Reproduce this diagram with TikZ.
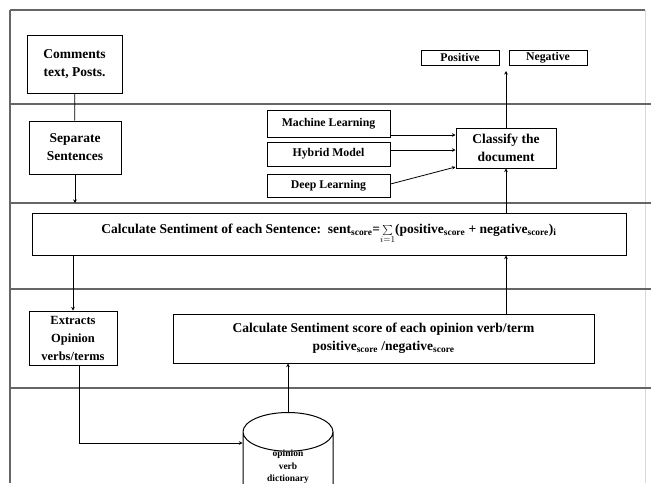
\documentclass[tikz,border=0pt]{standalone}
\usepackage{fontspec}
\setmainfont{Liberation Serif}
\usetikzlibrary{arrows.meta,shapes.geometric}

\begin{document}
\begin{tikzpicture}[x=1pt,y=-1pt]
		% Define the styles for the boxes, lanes and arrows
		\tikzstyle{box}=[draw, line width=1pt, inner sep=1pt, align=center,
		font=\fontsize{13.5}{18}\selectfont\bfseries]
		\tikzstyle{smallbox}=[box, font=\fontsize{11.8}{13}\selectfont\bfseries]
		\tikzstyle{lane}=[gray!80!black, line width=1.4pt]
		\tikzstyle{arr}=[-{Stealth[length=3.5pt,width=3.5pt]}, line width=0.8pt]
		
		\useasboundingbox (0,0) rectangle (651,483);
		
		% Draw the lanes
		\draw[lane] (10,10) -- (645,10); \draw[lane] (10,10) -- (10,483);
		\draw[gray!30, line width=0.8pt] (645,10) -- (645,483);
		\draw[lane] (10,104) -- (651,104); \draw[lane] (10,203) -- (651,203);
		\draw[lane] (10,289) -- (651,289); \draw[lane] (10,388) -- (651,388);
		
		% Nodes definition
		\node (com) at (74.5,64) [box, minimum width=95, minimum height=58]
		{Comments\\text, Posts.}; \node (sep) at (75,147.5) [box, minimum width=92,
		minimum height=53] {Separate\\Sentences};
		\node (ml) at (328.5,123.5) [smallbox, minimum width=123, minimum height=27]
		{Machine Learning}; \node (hyb) at (328.5,154) [smallbox, minimum width=123,
		minimum height=24] {Hybrid Model}; \node (deep) at (328.5,185.5) [smallbox,
		minimum width=123, minimum height=23] {Deep Learning};
		\node (cls) at (506,148) [box, minimum width=100, minimum height=40]
		{Classify the\\document};
		\node (pos) at (460,57.5) [smallbox, minimum width=78, minimum height=15]
		{Positive}; \node (neg) at (548,57.5) [smallbox, minimum width=78,
		minimum height=15] {Negative};
		\node (sent) at (329,234) [box, minimum width=594, minimum height=42]
		{Calculate Sentiment of each Sentence:\ \ sent\textsubscript{score}=$\sum\limits_{i=1}$(positive\textsubscript{score}
		+ negative\textsubscript{score})\textsubscript{i}};
		\node (ext) at (73,338) [box, minimum width=88, minimum height=54,
		font=\fontsize{12.5}{18}\selectfont\bfseries] {Extracts\\Opinion\\verbs/terms};
		\node (score) at (383.5,338.5) [box, minimum width=421, minimum height=49]
		{Calculate Sentiment score of each opinion verb/term\\positive\textsubscript{score}
		/negative\textsubscript{score}};
		% text kept at zero size so the cylinder keeps its own size
		\node (dict) at (288,412) [anchor=north, draw, line width=1pt, cylinder,
		shape border rotate=90, aspect=0.8, minimum width=90, minimum height=98,
		font=\fontsize{9.5}{12.5}\selectfont\bfseries]
		{\raisebox{6pt}[0pt][0pt]{\begin{tabular}[c]{@{}c@{}}opinion\\verb\\dictionary\end{tabular}}};
		
		% Free ends of the arrows
		\coordinate (s1) at (75,203); \coordinate (res) at (506,71);
		\coordinate (bend) at (79,443);
		
		% Draw the arrows
		\draw[line width=0.8pt] (com) -- (sep); \draw[arr] (sep) -- (s1);
		\draw[arr] (ext |- sent.south) -- (ext);
		\draw[line width=0.8pt] (ext.south -| bend) -- (bend); \draw[arr] (bend) --
		(dict.west |- bend); \draw[arr] (dict.north) -- (dict.north |- score.south);
		\draw[arr] (score.north -| cls) -- (cls |- sent.south); \draw[arr] (cls |-
		sent.north) -- (cls); \draw[arr] (cls) -- (res);
		\draw[arr] (ml.east |- 0,135) -- (cls.west |- 0,135); \draw[arr] (hyb.east
		|- 0,150) -- (cls.west |- 0,150); \draw[arr] (deep.east |- 0,184) --
		(cls.west |- 0,167);
	\end{tikzpicture}
\end{document}
